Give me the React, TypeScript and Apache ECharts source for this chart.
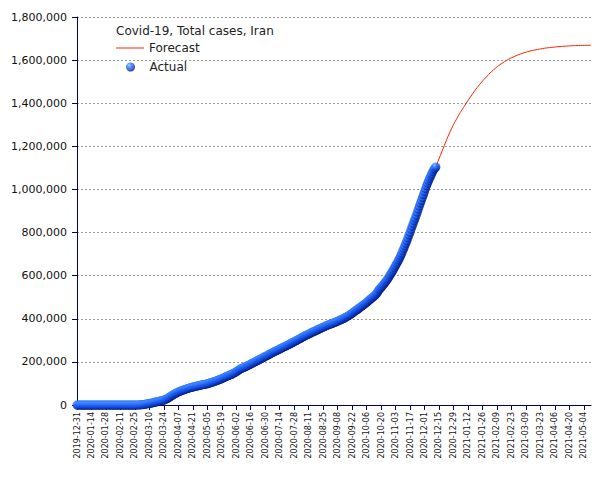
import React, { useEffect, useRef } from "react";
import * as echarts from "echarts";

// Axis range: daily categories from the first to the last day of the chart
const START_DATE = "2019-12-31";
const DAY_COUNT = 498; // 2019-12-31 .. 2021-05-11

// Y axis
const Y_MIN = 0;
const Y_MAX = 1800000;
const Y_STEP = 200000;

// Actual total cases, one value per day starting 2019-12-31
const zerosBeforeOutbreak = new Array(51).fill(0);
const actualFeb = [2, 5, 18, 28, 43, 61, 95, 139, 245, 388, 593];
const actualMar = [978, 1501, 2336, 2922, 3513, 4747, 5823, 6566, 7161, 8042, 9000, 10075, 11364, 12729, 13938, 14991, 16169, 17361, 18407, 19644, 20610, 21638, 23049, 24811, 27017, 29406, 32332, 35408, 38309, 41495, 44605];
const actualApr = [47593, 50468, 53183, 55743, 58226, 60500, 62589, 64586, 66220, 68192, 70029, 71686, 73303, 74877, 76389, 77995, 79494, 80868, 82211, 83505, 84802, 85996, 87026, 88194, 89328, 90481, 91472, 92584, 93657, 94640];
const actualMay = [95646, 96448, 97424, 98647, 99970, 101650, 103135, 104691, 106220, 107603, 109286, 110767, 112725, 114533, 116635, 118392, 120198, 122492, 124603, 126949, 129341, 131652, 133521, 135701, 137724, 139511, 141591, 143849, 146668, 148950, 151466];
const actualJun = [154445, 157562, 160696, 164270, 167156, 169425, 171789, 173832, 175927, 177938, 180156, 182525, 184955, 187427, 189876, 192439, 195051, 197647, 200262, 202584, 204952, 207525, 209970, 212501, 215096, 217724, 220180, 222669, 225205, 227662];
const actualJul = [230211, 232863, 235429, 237878, 240438, 243051, 245688, 248379, 250458, 252720, 255117, 257303, 259652, 262173, 264561, 267061, 269440, 271606, 273788, 276202, 278827, 281413, 284034, 286523, 288839, 291172, 293606, 296273, 298909, 301530, 304204];
const actualAug = [306752, 309437, 312035, 314786, 317483, 320117, 322567, 324692, 326712, 328844, 331189, 333699, 336324, 338825, 341070, 343203, 345450, 347835, 350279, 352558, 354764, 356792, 358905, 361150, 363363, 365606, 367796, 369911, 371816, 373570, 375212];
const actualSep = [376894, 378752, 380746, 382772, 384666, 386658, 388810, 391112, 393425, 395488, 397801, 399940, 402029, 404648, 407353, 410334, 413149, 416198, 419043, 422140, 425481, 429193, 432798, 436319, 439882, 443086, 446448, 449960, 453637, 457219];
const actualOct = [461044, 464596, 468075, 471772, 475674, 479825, 483844, 488236, 492378, 496253, 500075, 504281, 508389, 513219, 518980, 526490, 534631, 539670, 545286, 550757, 556891, 562705, 568896, 574856, 581824, 588648, 596941, 604952, 612772, 620491, 628780];
const actualNov = [637712, 646164, 654936, 663800, 673250, 682486, 692949, 703288, 715068, 726585, 738322, 750270, 762068, 775121, 788473, 800483, 815117, 828377, 841308, 854361, 866821, 880002, 894385, 908346, 922397, 935799, 948749, 962070, 975951, 989572];
const actualDec = [1003494, 1016835, 1028986, 1040547, 1051374, 1062397, 1072620, 1083023, 1092407, 1098000, 1104500];

// Forecast (dates and values)
const forecastDates = ["2020-12-12", "2020-12-19", "2020-12-26", "2021-01-02", "2021-01-09", "2021-01-16", "2021-01-23", "2021-01-30", "2021-02-06", "2021-02-13", "2021-02-20", "2021-02-27", "2021-03-06", "2021-03-13", "2021-03-20", "2021-03-27", "2021-04-03", "2021-04-10", "2021-04-17", "2021-04-24", "2021-05-01", "2021-05-11"];
const forecastValues = [1104500, 1190000, 1270000, 1335000, 1390000, 1440000, 1485000, 1523000, 1556000, 1582000, 1603000, 1619000, 1632000, 1642000, 1649000, 1655000, 1659000, 1662500, 1665000, 1667000, 1668000, 1669000];

const TITLE = "Covid-19, Total cases, Iran";
const FONT = "DejaVu Sans";

function buildDates(): string[] {
  const out: string[] = [];
  const [y, m, d] = START_DATE.split("-").map(Number);
  for (let i = 0; i < DAY_COUNT; i++) {
    const dt = new Date(Date.UTC(y, m - 1, d + i));
    out.push(dt.toISOString().slice(0, 10));
  }
  return out;
}

export default function App() {
  const ref = useRef<HTMLDivElement>(null);

  useEffect(() => {
    if (!ref.current) return;
    const chart = echarts.init(ref.current, undefined, { renderer: "svg" });
    const dates = buildDates();
    const actual = [
      ...zerosBeforeOutbreak,
      ...actualFeb,
      ...actualMar,
      ...actualApr,
      ...actualMay,
      ...actualJun,
      ...actualJul,
      ...actualAug,
      ...actualSep,
      ...actualOct,
      ...actualNov,
      ...actualDec,
    ];
    const forecast = forecastDates.map((d, i) => [d, forecastValues[i]]);

    const sphere = new echarts.graphic.RadialGradient(0.35, 0.3, 0.75, [
      { offset: 0, color: "#a6d3ff" },
      { offset: 0.25, color: "#3a88ff" },
      { offset: 0.6, color: "#1652f2" },
      { offset: 1, color: "#00146e" },
    ]);

    chart.setOption({
      animation: false,
      backgroundColor: "#ffffff",
      textStyle: { fontFamily: FONT },
      title: {
        text: TITLE,
        left: 116,
        top: 25,
        padding: 0,
        textStyle: { fontFamily: FONT, fontSize: 12, fontWeight: "normal", color: "#222" },
      },
      legend: [
        {
          data: [{ name: "Forecast", icon: "rect" }],
          orient: "vertical",
          left: 116,
          top: 42,
          padding: 0,
          itemWidth: 28,
          itemHeight: 1,
          textStyle: { fontFamily: FONT, fontSize: 12, color: "#222" },
        },
        {
          data: [{ name: "Actual", icon: "circle" }],
          orient: "vertical",
          left: 126,
          top: 61,
          padding: 0,
          itemWidth: 28,
          itemHeight: 9,
          textStyle: { fontFamily: FONT, fontSize: 12, color: "#222" },
        },
      ],
      grid: { left: 77, right: 14, top: 17, bottom: 75, containLabel: false },
      xAxis: {
        type: "category",
        data: dates,
        boundaryGap: false,
        axisLine: { lineStyle: { color: "#000066", width: 1 } },
        axisTick: { show: true, interval: 13, length: 5, lineStyle: { color: "#000066" } },
        axisLabel: {
          interval: 13,
          rotate: 90,
          fontSize: 8,
          margin: 7,
          color: "#111",
          fontFamily: FONT,
        },
        splitLine: { show: false },
      },
      yAxis: {
        type: "value",
        min: Y_MIN,
        max: Y_MAX,
        interval: Y_STEP,
        axisLine: { show: true, lineStyle: { color: "#000066", width: 1 } },
        axisTick: { show: true, length: 5, lineStyle: { color: "#000066" } },
        axisLabel: {
          fontSize: 11,
          margin: 10,
          color: "#111",
          fontFamily: FONT,
          formatter: (v: number) => v.toLocaleString("en-US"),
        },
        splitLine: { show: true, lineStyle: { color: "#9a9a9a", type: [2, 2], width: 1 } },
      },
      series: [
        {
          name: "Forecast",
          type: "line",
          data: forecast,
          smooth: true,
          symbol: "none",
          lineStyle: { color: "#ff2000", width: 1 },
          itemStyle: { color: "#ff2000" },
          z: 2,
        },
        {
          name: "Actual",
          type: "scatter",
          data: actual,
          symbol: "circle",
          symbolSize: 9,
          itemStyle: { color: sphere },
          z: 3,
        },
      ],
    });
    return () => chart.dispose();
  }, []);

  return (
    <div
      ref={ref}
      style={{ position: "fixed", left: 0, top: 0, width: 605, height: 480, background: "#fff" }}
    />
  );
}
